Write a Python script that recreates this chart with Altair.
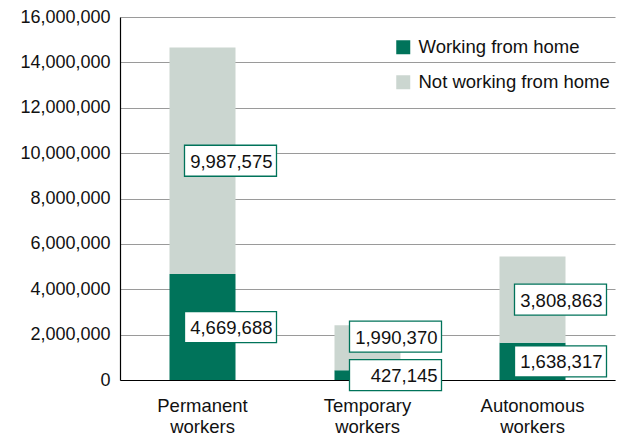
import altair as alt
import pandas as pd

categories = ["Permanent workers", "Temporary workers", "Autonomous workers"]
series = ["Working from home", "Not working from home"]
working_from_home = [4669688, 427145, 1638317]
not_working_from_home = [9987575, 1990370, 3808863]
y_ticks = [0, 2000000, 4000000, 6000000, 8000000, 10000000, 12000000, 14000000, 16000000]

GREEN = "#00735a"
GREY = "#cbd6d0"
FONT = "Liberation Sans"
MIN_GAP = 1700000  # minimum separation between the two labels of a bar (data units)

rows = []
for i, c in enumerate(categories):
    w = working_from_home[i]
    n = not_working_from_home[i]
    lo = w / 2
    hi = w + n / 2
    if hi - lo < MIN_GAP:
        hi = lo + MIN_GAP
    rows.append({"cat": c, "series": series[0], "value": w, "order": 0, "lab": lo})
    rows.append({"cat": c, "series": series[1], "value": n, "order": 1, "lab": hi})
df = pd.DataFrame(rows)
df["txt"] = df["value"].map(lambda v: f"{v:,}")

x_enc = alt.X(
    "cat:N",
    sort=categories,
    scale=alt.Scale(paddingInner=0.6, paddingOuter=0.3),
    axis=alt.Axis(
        title=None,
        labelAngle=0,
        labelExpr="split(datum.label, ' ')",
        labelFontSize=18.5,
        labelFont=FONT,
        labelColor="#111",
        labelLineHeight=21,
        labelPadding=16,
        ticks=False,
        domainColor="#000",
        domainWidth=1.2,
    ),
)

bars = alt.Chart(df).mark_bar().encode(
    x=x_enc,
    y=alt.Y(
        "value:Q",
        stack="zero",
        scale=alt.Scale(domain=[0, 16000000], nice=False),
        axis=alt.Axis(
            title=None,
            values=y_ticks,
            format=",d",
            labelFontSize=18,
            labelFont=FONT,
            labelColor="#111",
            labelPadding=10,
            ticks=False,
            tickSize=0,
            grid=True,
            gridColor="#9a9a9a",
            gridWidth=1.2,
            domainColor="#000",
            domainWidth=1.2,
        ),
    ),
    color=alt.Color(
        "series:N",
        scale=alt.Scale(domain=series, range=[GREEN, GREY]),
        legend=alt.Legend(
            title=None,
            orient="none",
            legendX=274,
            legendY=21,
            symbolType="square",
            symbolSize=196,
            symbolStrokeWidth=0,
            symbolOpacity=1,
            labelFontSize=18.5,
            labelFont=FONT,
            labelColor="#111",
            labelOffset=6,
            labelLimit=0,
            rowPadding=16,
        ),
    ),
    order=alt.Order("order:Q"),
)

box_path = "M-1,-0.337L1,-0.337L1,0.337L-1,0.337Z"
boxes = alt.Chart(df).mark_point(
    shape=box_path,
    size=92 * 92,
    filled=False,
    fill="white",
    fillOpacity=1,
    stroke=GREEN,
    strokeWidth=1.3,
    opacity=1,
    xOffset=28,
).encode(
    x=alt.X("cat:N", sort=categories),
    y=alt.Y("lab:Q"),
)

texts = alt.Chart(df).mark_text(
    align="right",
    baseline="middle",
    fontSize=18.5,
    font=FONT,
    color="#111",
    dx=70,
    dy=1,
).encode(
    x=alt.X("cat:N", sort=categories),
    y=alt.Y("lab:Q"),
    text="txt:N",
)

chart = (
    alt.layer(bars, boxes, texts)
    .properties(
        width=495,
        height=363,
        autosize="none",
        padding={"left": 112, "top": 9, "right": 7, "bottom": 57},
    )
    .configure_view(stroke=None)
)

chart.save("out.html", embed_options={"renderer": "svg", "actions": False})
